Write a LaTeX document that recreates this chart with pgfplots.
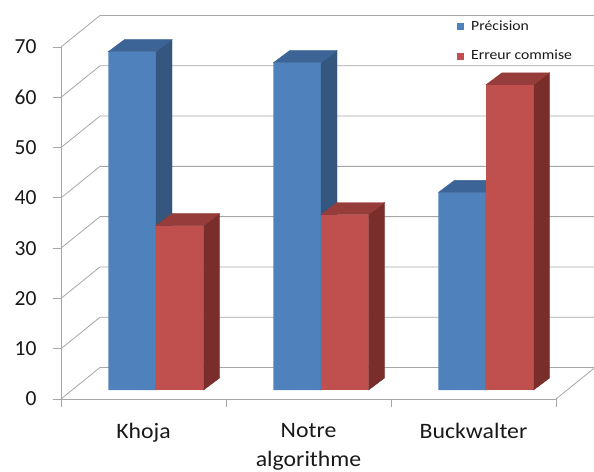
\documentclass[border=0pt]{standalone}
\usepackage{pgfplots}
\pgfplotsset{compat=1.18}
\usepackage{pgfplotstable}
\usepackage{fontspec}
\setmainfont{Carlito}
\definecolor{gridc}{HTML}{A6A6A6}
\definecolor{bfront}{HTML}{4F81BD}
\definecolor{btop}{HTML}{3C6496}
\definecolor{bside}{HTML}{34567F}
\definecolor{rfront}{HTML}{C0504D}
\definecolor{rtop}{HTML}{963C3A}
\definecolor{rside}{HTML}{7A2E2C}
\pgfplotstableread{
x prec err
0 67.3 32.7
1 65.1 34.9
2 39.3 60.7
}\data
\def\yu{5.0286}
\def\hw{23.76}
\def\ddx{16}
\def\ddy{12}
\pgfplotsset{
  side3d/.style 2 args={
    scatter, only marks, mark=text, text mark={},
    visualization depends on={rawy \as \hv},
    scatter/@pre marker code/.code={
      \fill[#1] (\hw pt,0pt) -- ++(\ddx pt,\ddy pt) -- ++(0pt,{-\hv*\yu*1pt}) -- ++(-\ddx pt,-\ddy pt) -- cycle;
      \fill[#2] (-\hw pt,0pt) -- (\hw pt,0pt) -- ++(\ddx pt,\ddy pt) -- ++({-2*\hw*1pt},0pt) -- cycle;
    },
    scatter/@post marker code/.code={},
  },
  barplane/.style={
    at={(12.5pt,9pt)}, anchor=south west,
    x=165pt, y=5.0286pt,
    xmin=-0.5, xmax=2.5, ymin=0, ymax=70,
    hide axis, clip=false,
  },
}
\begin{document}
\begin{tikzpicture}
\begin{axis}[
  at={(0,0)}, anchor=south west,
  x=165pt, y=5.0286pt,
  xmin=-0.5, xmax=2.5, ymin=0, ymax=70,
  clip=false,
  axis x line*=bottom, axis y line*=left,
  axis line style={gridc, line width=0.8pt, -},
  ytick={0,10,...,70},
  xtick={0,1,2},
  xticklabels={Khoja, Notre\\algorithme, Buckwalter},
  major x tick style={draw=none},
  extra x ticks={-0.5,0.5,1.5,2.5},
  extra x tick labels={},
  extra x tick style={major x tick style={draw=gridc, line width=0.8pt}},
  major y tick style={draw=gridc, line width=0.8pt},
  tick align=outside,
  major tick length=8pt,
  /pgf/number format/assume math mode=true,
  yticklabel style={font=\fontsize{21.5}{26}\selectfont, text=black!90, xshift=-13pt},
  xticklabel style={font=\fontsize{22}{29}\selectfont, text=black!90, align=center, xscale=1.08, yshift=-13pt},
  legend style={at={(axis cs:1.878,76)}, anchor=north west, draw=none, fill=none,
    font=\fontsize{14}{16}\selectfont, row sep=14pt, text=black!90,
    nodes={xscale=1.12},
    /tikz/every odd column/.append style={column sep=6pt}},
  legend cell align=left,
]
\pgfplotsinvokeforeach{0,10,...,70}{
  \draw[gridc, line width=0.8pt] (axis cs:-0.5,#1) -- (axis cs:-0.2636,{#1+6.264}) -- (axis cs:2.7364,{#1+6.264});
}
\draw[gridc, line width=0.8pt] (axis cs:2.5,0) -- (axis cs:2.7364,6.264);
\addlegendimage{legend image code/.code={\fill[bfront] (-3pt,-3pt) rectangle (3pt,3pt);}}
\addlegendentry{Précision}
\addlegendimage{legend image code/.code={\fill[rfront] (-3pt,-3pt) rectangle (3pt,3pt);}}
\addlegendentry{Erreur commise}
\end{axis}
\begin{axis}[barplane]
\addplot[side3d={bside}{btop}] table[x expr=\thisrow{x}-0.144, y=prec]{\data};
\addplot[ybar, bar width=0.288, bar shift=-0.144, fill=bfront, draw=none] table[x=x, y=prec]{\data};
\end{axis}
\begin{axis}[barplane]
\addplot[side3d={rside}{rtop}] table[x expr=\thisrow{x}+0.144, y=err]{\data};
\addplot[ybar, bar width=0.288, bar shift=0.144, fill=rfront, draw=none] table[x=x, y=err]{\data};
\end{axis}
\pgfresetboundingbox
\useasboundingbox (-61pt,-72pt) rectangle (533pt,399pt);
\end{tikzpicture}
\end{document}
